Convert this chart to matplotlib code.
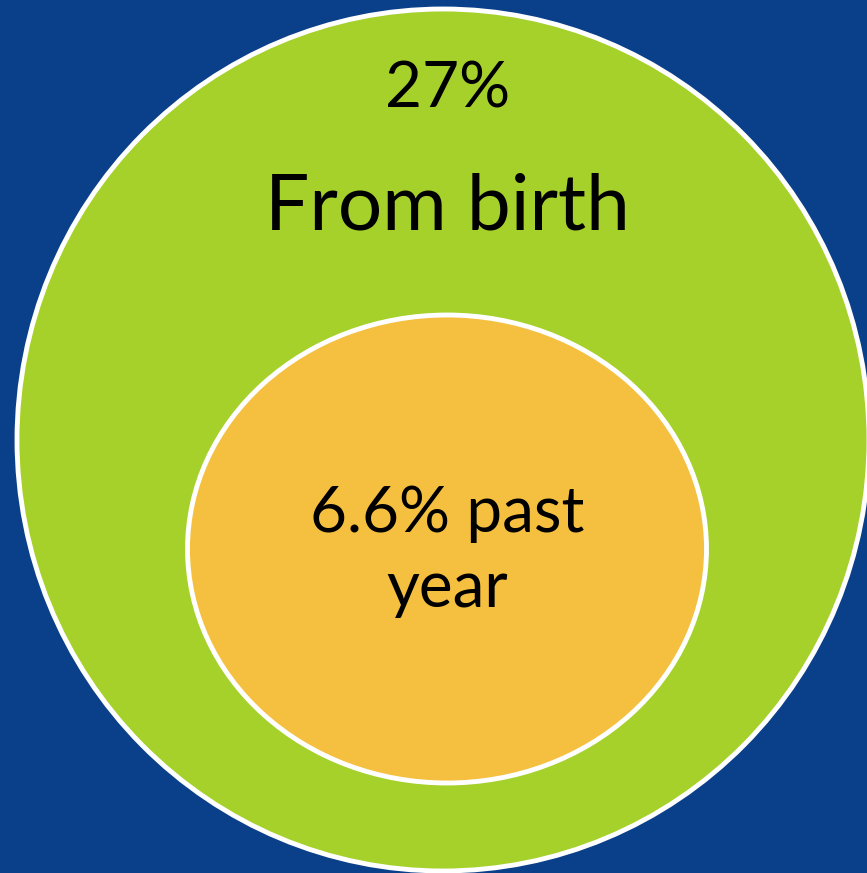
import matplotlib.pyplot as plt
from matplotlib.patches import Ellipse

# values shown in the nested circles
labels = ["From birth", "past year"]
values = [27, 6.6]

bg = "#0a3f89"
green = "#a6d02a"
orange = "#f5c040"

fig = plt.figure(figsize=(8.67, 8.73), dpi=100, facecolor=bg)
ax = fig.add_axes([0, 0, 1, 1])
ax.set_facecolor(bg)
ax.set_xlim(0, 867)
ax.set_ylim(873, 0)
ax.axis("off")

# outer and inner ellipses
ax.add_patch(Ellipse((443, 440), 852, 862, facecolor=green, edgecolor="white", linewidth=3.5))
ax.add_patch(Ellipse((447, 549), 519, 468, facecolor=orange, edgecolor="white", linewidth=3.5))

font = "Lato"
ax.text(448, 107, f"{values[0]:g}%", ha="center", va="baseline", fontsize=46, family=font, color="black")
ax.text(447, 230, labels[0], ha="center", va="baseline", fontsize=56.5, family=font, color="black")
ax.text(447, 532, f"{values[1]:g}% past", ha="center", va="baseline", fontsize=46, family=font, color="black")
ax.text(447, 607, "year", ha="center", va="baseline", fontsize=46, family=font, color="black")

fig.savefig("out.png", dpi=100, facecolor=bg)
